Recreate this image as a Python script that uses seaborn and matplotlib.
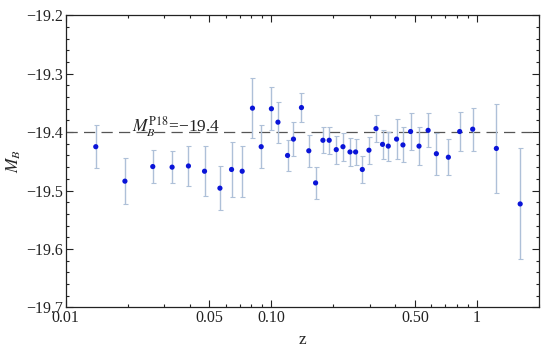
import numpy as np
import pandas as pd
import matplotlib
matplotlib.use("Agg")
import matplotlib.pyplot as plt
import matplotlib.ticker as mticker
import seaborn as sns

z = [0.0140, 0.0194, 0.0265, 0.0329, 0.0395, 0.0473, 0.0562, 0.0640, 0.0721, 0.0809,
     0.0892, 0.1000, 0.1076, 0.1198, 0.1280, 0.1400, 0.1520, 0.1640, 0.1780, 0.1910,
     0.2067, 0.2228, 0.2410, 0.2567, 0.2767, 0.2980, 0.3225, 0.3470, 0.3700, 0.4060,
     0.4360, 0.4750, 0.5220, 0.5780, 0.6340, 0.7250, 0.8230, 0.9520, 1.2410, 1.6200]
MB = [-19.425, -19.484, -19.459, -19.460, -19.458, -19.467, -19.496, -19.464, -19.467, -19.359,
      -19.425, -19.360, -19.383, -19.440, -19.412, -19.358, -19.432, -19.487, -19.414, -19.414,
      -19.430, -19.425, -19.434, -19.434, -19.464, -19.431, -19.394, -19.421, -19.424, -19.412,
      -19.422, -19.399, -19.424, -19.397, -19.437, -19.443, -19.399, -19.395, -19.428, -19.523]
err = [0.037, 0.039, 0.028, 0.028, 0.035, 0.043, 0.038, 0.047, 0.044, 0.051,
       0.037, 0.037, 0.035, 0.027, 0.029, 0.025, 0.027, 0.028, 0.022, 0.023,
       0.024, 0.024, 0.024, 0.023, 0.023, 0.023, 0.023, 0.025, 0.025, 0.034,
       0.030, 0.031, 0.032, 0.029, 0.036, 0.031, 0.033, 0.037, 0.076, 0.095]
MB_P18 = -19.4

df = pd.DataFrame({"z": z, "MB": MB, "err": err})

sns.set_style("ticks")
plt.rcParams['font.family'] = ['Liberation Serif', 'DejaVu Serif']
plt.rcParams['mathtext.fontset'] = 'stix'

fig = plt.figure(figsize=(5.5, 3.54), dpi=100)
ax = fig.add_axes([0.1195, 0.1319, 0.8605, 0.8249])

ax.axhline(MB_P18, color='#555555', lw=0.9, dashes=(9, 5), zorder=1)
ax.errorbar(df["z"], df["MB"], yerr=df["err"], fmt='none', ecolor='#aec0d8',
            elinewidth=1.0, capsize=1.8, capthick=0.8, zorder=2)
sns.scatterplot(data=df, x="z", y="MB", ax=ax, color='#0a14d8', s=14,
                edgecolor='none', zorder=3, legend=False)

ax.set_xscale('log')
ax.set_xlim(0.01, 2.0)
ax.set_ylim(-19.7, -19.2)
ax.set_xticks([0.01, 0.05, 0.10, 0.50, 1])
ax.set_xticklabels(['0.01', '0.05', '0.10', '0.50', '1'])
ax.xaxis.set_minor_locator(mticker.LogLocator(base=10, subs=np.arange(2, 10)))
ax.xaxis.set_minor_formatter(mticker.NullFormatter())
ax.set_yticks([-19.7, -19.6, -19.5, -19.4, -19.3, -19.2])
ax.set_yticklabels(['\u221219.7', '\u221219.6', '\u221219.5', '\u221219.4', '\u221219.3', '\u221219.2'])
ax.yaxis.set_minor_locator(mticker.MultipleLocator(0.02))

ax.tick_params(which='both', direction='in', top=True, right=True, labelsize=11.5,
               colors='#222222', width=0.8)
ax.tick_params(which='major', length=5, pad=2)
ax.tick_params(which='minor', length=2.5)
for s in ax.spines.values():
    s.set_linewidth(0.9)
    s.set_color('#222222')

ax.set_xlabel('z', fontsize=12.5, labelpad=4)
ax.set_ylabel('$M_B$', fontsize=12.5, labelpad=2)

ax.text(0.0209, -19.4, '$M_B^{\\mathrm{P18}}$=\u221219.4', fontsize=12.5,
        ha='left', va='baseline', color='#222222')

fig.savefig('out.png', dpi=100)
